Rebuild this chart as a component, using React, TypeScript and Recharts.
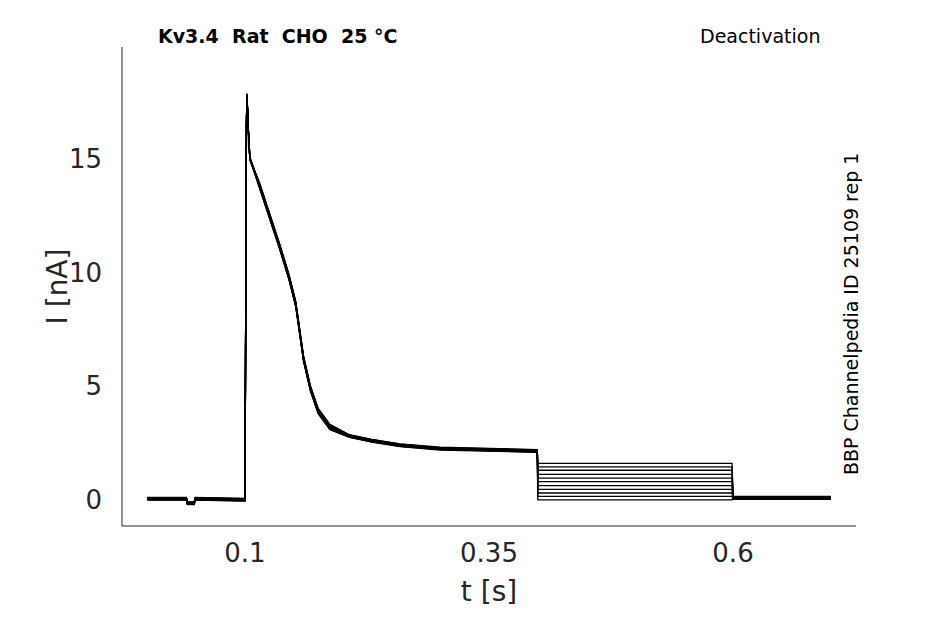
import React from "react";
import { LineChart, Line, XAxis, YAxis } from "recharts";

const baseTimes = [0, 0.04, 0.041, 0.048, 0.049, 0.0995, 0.1, 0.1015, 0.102, 0.1035, 0.105, 0.11, 0.115, 0.125, 0.135, 0.145, 0.152, 0.16, 0.167, 0.175, 0.187, 0.207, 0.23, 0.259, 0.3, 0.35, 0.3995];
const baseCurrent = [0.05, 0.05, -0.15, -0.15, 0.05, 0.0, 0.0, 16.5, 17.8, 16.2, 15.0, 14.4, 13.8, 12.5, 11.2, 9.8, 8.6, 6.2, 4.9, 3.9, 3.2, 2.8, 2.6, 2.4, 2.25, 2.2, 2.15];
const tailLevels = [1.6, 1.45, 1.3, 1.12, 0.95, 0.8, 0.62, 0.46, 0.3, 0.15, 0.0];
const postLevels = [0.15, 0.14, 0.13, 0.12, 0.1, 0.09, 0.08, 0.06, 0.05, 0.03, 0.02];
const stepTimes = [0.4, 0.599, 0.6, 0.7];
const xTicks = [0.1, 0.35, 0.6];
const yTicks = [0, 5, 10, 15];

const series = tailLevels.map((lvl, i) => {
  const pts = baseTimes.map((t, j) => ({ t, v: baseCurrent[j] + (i - 5) * 0.012 * (t > 0.11 && t < 0.2 ? 2 : 1) }));
  pts.push({ t: stepTimes[0], v: lvl });
  pts.push({ t: stepTimes[1], v: lvl });
  pts.push({ t: stepTimes[2], v: postLevels[i] });
  pts.push({ t: stepTimes[3], v: postLevels[i] });
  return pts;
});

const tickStyle = { fontSize: 26, fill: "#262626", fontFamily: "DejaVu Sans" };

export default function App() {
  return (
    <div style={{ position: "relative", width: 937, height: 616 }}>
      <LineChart width={937} height={616} margin={{ top: 39, right: 89, bottom: 38, left: 54 }}>
        <XAxis type="number" dataKey="t" domain={[-0.026, 0.726]} ticks={xTicks} allowDataOverflow
          axisLine={{ stroke: "#262626" }} tickLine={false} tick={tickStyle} tickMargin={12} height={60}
          label={{ value: "t [s]", position: "bottom", offset: -5, style: { fontSize: 28, fill: "#262626", fontFamily: "DejaVu Sans" } }} />
        <YAxis type="number" domain={[-1.15, 19.9]} ticks={yTicks} allowDataOverflow
          axisLine={{ stroke: "#262626" }} tickLine={false} tick={tickStyle} tickMargin={14} width={60}
          label={{ value: "I [nA]", angle: -90, position: "left", offset: 5, style: { fontSize: 28, fill: "#262626", fontFamily: "DejaVu Sans", textAnchor: "middle" } }} />
        {series.map((d, i) => (
          <Line key={i} data={d} dataKey="v" type="linear" stroke="#000" strokeWidth={1.3} dot={false} isAnimationActive={false} />
        ))}
      </LineChart>
      <div style={{ position: "absolute", left: 150, top: 17, fontSize: 19, fontWeight: "bold", fontFamily: "DejaVu Sans", whiteSpace: "pre" }}>Kv3.4  Rat  CHO  25 °C</div>
      <div style={{ position: "absolute", left: 692, top: 17, fontSize: 19, fontFamily: "DejaVu Sans" }}>Deactivation</div>
      <div style={{ position: "absolute", left: 832, top: 467, transform: "rotate(-90deg)", transformOrigin: "left top", fontSize: 19, fontFamily: "DejaVu Sans", whiteSpace: "nowrap" }}>BBP Channelpedia ID 25109 rep 1</div>
    </div>
  );
}
